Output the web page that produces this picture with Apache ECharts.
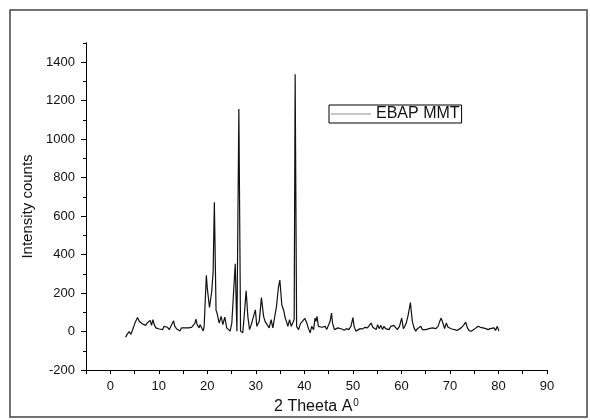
<!DOCTYPE html>
<html>
<head>
<meta charset="utf-8">
<script src="https://cdn.jsdelivr.net/npm/echarts@6/dist/echarts.min.js"></script>
<style>html,body{margin:0;padding:0;background:#fff;}#c{width:590px;height:420px;}</style>
</head>
<body>
<div id="c"></div>
<script>
const seriesName = 'EBAP MMT';
const xLabel = '2 Theeta A';
const yLabel = 'Intensity counts';
const twoTheta = [3.15,3.56,3.9,4.26,4.74,5.08,5.42,5.62,5.97,6.32,6.65,7.0,7.28,7.6,7.97,8.24,8.5,8.8,9.06,9.4,9.74,10.1,10.4,10.8,11.1,11.5,11.8,12.15,12.5,12.85,13.05,13.3,13.65,14.0,14.35,14.7,15.0,15.4,15.7,16.1,16.4,16.75,17.1,17.45,17.65,17.9,18.3,18.5,18.8,19.15,19.35,19.8,20.0,20.45,20.9,21.2,21.45,21.8,22.0,22.45,22.85,23.2,23.6,24.0,24.4,24.7,25.05,25.4,25.75,26.1,26.5,26.85,27.3,27.65,28.0,28.35,28.7,29.05,29.4,29.9,30.2,30.7,31.15,31.6,31.9,32.3,32.75,33.15,33.5,33.9,34.25,34.65,34.95,35.35,35.8,36.05,36.3,36.6,36.95,37.3,37.6,37.9,38.1,38.4,38.8,39.2,39.6,40.1,40.5,40.85,41.2,41.5,41.9,42.2,42.4,42.6,42.9,43.25,43.6,43.9,44.3,44.6,44.95,45.3,45.6,45.8,46.2,46.5,46.9,47.2,47.7,48.2,48.65,49.15,49.6,50.0,50.25,50.6,51.0,51.5,51.95,52.5,53.0,53.4,53.75,54.1,54.45,54.8,55.1,55.4,55.75,56.1,56.4,56.75,57.1,57.45,57.8,58.1,58.45,58.8,59.15,59.6,60.05,60.4,60.7,61.0,61.4,61.85,62.25,62.6,62.95,63.3,63.65,64.0,64.3,64.7,65.0,65.35,65.7,66.05,66.4,66.75,67.1,67.55,67.9,68.2,68.6,68.9,69.25,69.6,69.95,70.4,71.0,71.45,71.85,72.3,72.8,73.25,73.6,73.95,74.4,74.9,75.3,75.8,76.3,76.8,77.4,77.85,78.3,78.7,79.1,79.4,79.75,80.1];
const intensity = [-29,-12,0,-15,18,44,62,73,53,58,39,49,32,44,36,58,32,62,36,19,27,13,22,10,27,19,22,10,27,36,56,27,15,22,3,19,13,19,10,19,15,22,15,44,65,36,19,36,45,3,27,293,224,125,207,310,672,110,96,44,79,36,75,19,27,2,44,198,352,2,1157,2,-7,96,212,79,10,36,27,113,27,53,176,79,53,44,19,62,19,10,130,229,267,139,104,70,53,27,62,27,44,62,1337,27,10,41,36,68,44,15,-7,27,10,70,53,79,27,19,22,13,27,10,19,53,96,44,10,5,19,10,13,7,15,10,27,72,27,2,5,15,13,22,19,27,44,22,32,10,36,15,32,10,27,15,22,10,27,22,32,22,10,27,70,15,27,44,87,150,53,19,2,15,10,27,10,2,10,5,15,8,19,13,15,27,53,70,39,15,44,22,15,13,10,5,2,19,32,49,19,5,2,10,15,27,22,19,15,10,15,5,19,5,27,2];
const xMin = -5, xMax = 90, xStep = 5;
const yMin = -200, yMax = 1500, yMinorStep = 100, yMajorStep = 200;

const chart = echarts.init(document.getElementById('c'), null, {renderer: 'canvas'});
const data = twoTheta.map((x, i) => [x, intensity[i]]);
const font = 'Arial, "Liberation Sans", Helvetica, sans-serif';
const axisLineStyle = {color: '#000', width: 1};
chart.setOption({
  animation: false,
  backgroundColor: '#fff',
  textStyle: {fontFamily: font},
  graphic: [{
    type: 'rect', shape: {x: 10, y: 10, width: 577, height: 407},
    style: {fill: 'none', stroke: '#444', lineWidth: 1.5}, silent: true
  }],
  grid: {left: 86, right: 43, top: 43, bottom: 45},
  legend: {
    left: 329, top: 105, padding: [1, 2, 1, 2],
    borderColor: '#000', borderWidth: 1, borderRadius: 0,
    itemWidth: 40, itemHeight: 12,
    textStyle: {fontSize: 16, color: '#111', fontFamily: font},
    data: [{name: seriesName, icon: 'path://M0,0 L40,0 L40,0.6 L0,0.6 Z', itemStyle: {color: '#222'}}]
  },
  xAxis: [{
    type: 'value', min: xMin, max: xMax, interval: xStep,
    axisLine: {onZero: false, lineStyle: axisLineStyle},
    axisTick: {length: 4, lineStyle: axisLineStyle},
    splitLine: {show: false},
    axisLabel: {fontSize: 13, color: '#111', margin: 10,
      formatter: v => (v % 10 === 0 ? String(v) : '')},
    name: xLabel + '{s|0}', nameLocation: 'middle', nameGap: 28,
    nameTextStyle: {fontSize: 16, color: '#111',
      rich: {s: {fontSize: 10, color: '#111', verticalAlign: 'top', padding: [0, 0, 8, 1]}}}
  }],
  yAxis: [{
    type: 'value', min: yMin, max: yMax, interval: yMinorStep,
    axisLine: {show: true, onZero: false, lineStyle: axisLineStyle},
    axisTick: {show: true, length: 3, lineStyle: axisLineStyle},
    splitLine: {show: false},
    axisLabel: {show: false}
  }, {
    type: 'value', min: yMin, max: yMax, interval: yMajorStep, position: 'left',
    axisLine: {show: true, onZero: false, lineStyle: axisLineStyle},
    axisTick: {show: true, length: 5, lineStyle: axisLineStyle},
    splitLine: {show: false},
    axisLabel: {fontSize: 13, color: '#111', margin: 11, showMaxLabel: false,
      formatter: v => (v % 200 === 0 && v <= 1400 ? String(v) : '')},
    name: yLabel, nameLocation: 'middle', nameGap: 45,
    nameTextStyle: {fontSize: 15, color: '#111'}
  }],
  series: [{
    name: seriesName, type: 'line', data: data, symbol: 'none',
    xAxisIndex: 0, yAxisIndex: 0,
    lineStyle: {color: '#111', width: 1.2},
    itemStyle: {color: '#111'}
  }]
});
</script>
</body>
</html>
